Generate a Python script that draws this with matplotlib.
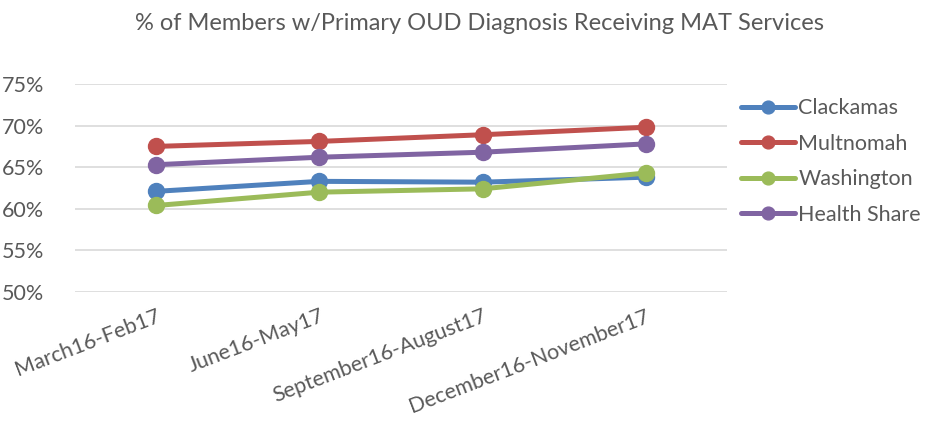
import matplotlib.pyplot as plt
from matplotlib.ticker import PercentFormatter

plt.rcParams["font.family"] = ["Lato", "DejaVu Sans"]

# ---------------------------------------------------------------------------
# Data
# ---------------------------------------------------------------------------
periods = ["March16-Feb17", "June16-May17", "September16-August17", "December16-November17"]
clackamas = [62.1, 63.3, 63.2, 63.8]
multnomah = [67.5, 68.1, 68.9, 69.8]
washington = [60.4, 62.0, 62.4, 64.3]
health_share = [65.3, 66.2, 66.8, 67.8]

series = [
    ("Clackamas", clackamas, "#4F81BD"),
    ("Multnomah", multnomah, "#C0504D"),
    ("Washington", washington, "#9BBB59"),
    ("Health Share", health_share, "#8064A2"),
]

GREY = "#595959"

fig = plt.figure(figsize=(9.25, 4.22), dpi=100)
ax = fig.add_axes([0.081, 0.308, 0.705, 0.493])

x = range(len(periods))
for name, vals, color in series:
    ax.plot(x, vals, color=color, lw=3.6, marker="o", ms=11.5, label=name,
            solid_capstyle="round")

ax.set_xlim(-0.5, len(periods) - 0.5)
ax.set_ylim(50, 75)
ax.set_yticks([50, 55, 60, 65, 70, 75])
ax.yaxis.set_major_formatter(PercentFormatter(decimals=0))
ax.set_xticks(list(x))
ax.set_xticklabels(periods, rotation=21, ha="right", rotation_mode="anchor")

ax.grid(axis="y", color="#d9d9d9", lw=1.2)
ax.set_axisbelow(True)
for s in ax.spines.values():
    s.set_visible(False)
ax.tick_params(length=0, colors=GREY, labelsize=15.5)
ax.tick_params(axis="y", pad=22)
ax.tick_params(axis="x", pad=10)

fig.suptitle("% of Members w/Primary OUD Diagnosis Receiving MAT Services",
             color=GREY, fontsize=17, x=0.518, y=0.97)

leg = fig.legend(loc="upper left", bbox_to_anchor=(0.792, 0.787), frameon=False,
                 fontsize=15.5, handlelength=2.5, handletextpad=0.15, labelspacing=0.72,
                 markerscale=0.8, borderaxespad=0)
for t in leg.get_texts():
    t.set_color(GREY)

fig.savefig("out.png", dpi=100)
